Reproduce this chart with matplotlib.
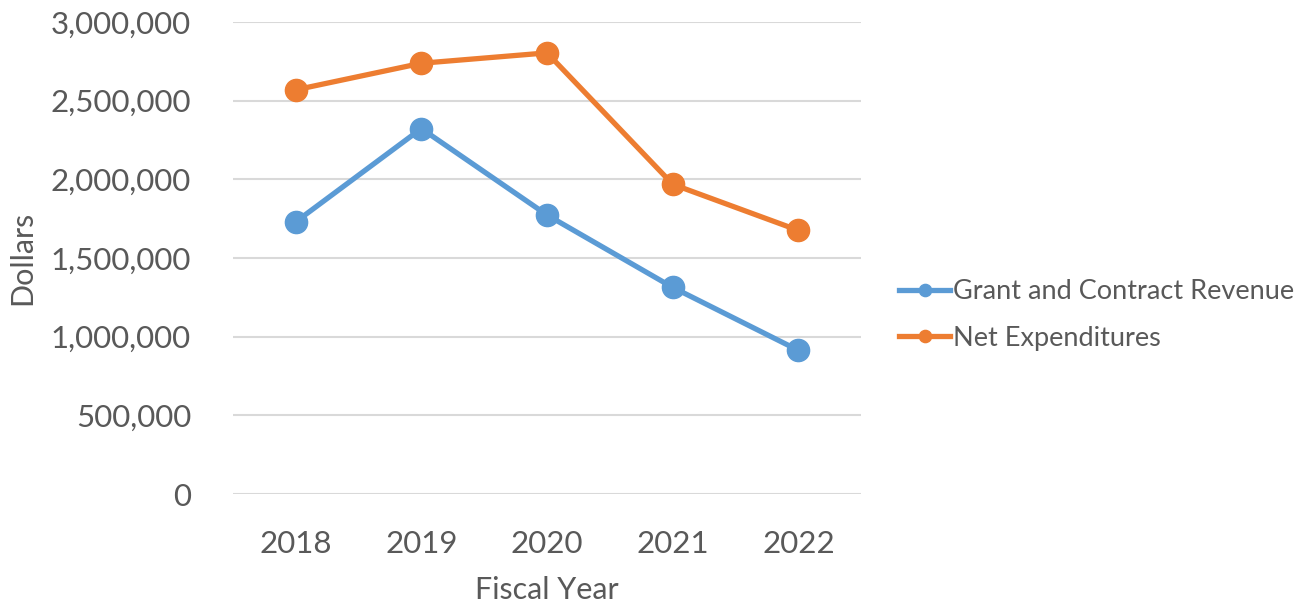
import matplotlib.pyplot as plt
from matplotlib.ticker import FuncFormatter

# fiscal years and the two series (dollars)
years = ['2018', '2019', '2020', '2021', '2022']
grant_revenue = [1729000, 2322000, 1773000, 1313000, 913000]
net_expenditures = [2568000, 2737000, 2803000, 1968000, 1675000]

plt.rcParams['font.family'] = ['Lato', 'DejaVu Sans']
text_color = '#595959'

fig = plt.figure(figsize=(13.15, 6.07), dpi=100)
ax = fig.add_axes([0.177, 0.186, 0.478, 0.778])

x = range(len(years))
ax.plot(x, grant_revenue, color='#5B9BD5', linewidth=3.8, marker='o',
        markersize=16, label='Grant and Contract Revenue', zorder=3)
ax.plot(x, net_expenditures, color='#ED7D31', linewidth=3.8, marker='o',
        markersize=16, label='Net Expenditures', zorder=3)

ax.set_xlim(-0.5, len(years) - 0.5)
ax.set_ylim(0, 3000000)
ax.set_yticks(range(0, 3000001, 500000))
ax.yaxis.set_major_formatter(FuncFormatter(lambda v, p: f'{int(v):,}'))
ax.set_xticks(list(x))
ax.set_xticklabels(years)

# gridlines only, no frame
ax.grid(axis='y', color='#D9D9D9', linewidth=1.5)
ax.set_axisbelow(True)
for s in ax.spines.values():
    s.set_visible(False)
ax.tick_params(axis='both', length=0, labelsize=22.5, colors=text_color)
ax.tick_params(axis='y', pad=30)
ax.tick_params(axis='x', pad=26)

ax.set_xlabel('Fiscal Year', fontsize=22, color=text_color, labelpad=13)
ax.set_ylabel('Dollars', fontsize=22, color=text_color, labelpad=10)

fig.legend(loc='center left', bbox_to_anchor=(0.665, 0.481), frameon=False,
           fontsize=19.5, labelcolor=text_color, handlelength=1.9,
           handletextpad=0.1, labelspacing=0.8, markerscale=0.55)

plt.savefig('out.png', dpi=100)
